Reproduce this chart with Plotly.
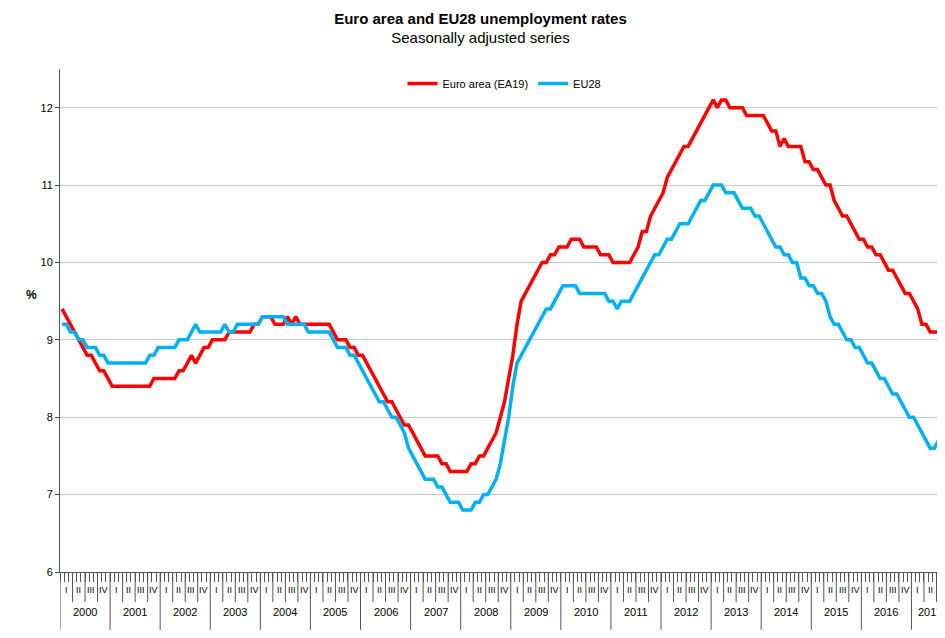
import plotly.graph_objects as go

#### monthly unemployment rates, Jan 2000 - Aug 2017

years = list(range(2000, 2018))
quarters = ["I", "II", "III", "IV"]

ea19 = [
    9.4, 9.3, 9.2, 9.1, 9.0, 8.9, 8.8, 8.8, 8.7, 8.6, 8.6, 8.5,
    8.4, 8.4, 8.4, 8.4, 8.4, 8.4, 8.4, 8.4, 8.4, 8.4, 8.5, 8.5,
    8.5, 8.5, 8.5, 8.5, 8.6, 8.6, 8.7, 8.8, 8.7, 8.8, 8.9, 8.9,
    9.0, 9.0, 9.0, 9.0, 9.1, 9.1, 9.1, 9.1, 9.1, 9.1, 9.2, 9.2,
    9.3, 9.3, 9.3, 9.2, 9.2, 9.2, 9.3, 9.2, 9.3, 9.2, 9.2, 9.2,
    9.2, 9.2, 9.2, 9.2, 9.2, 9.1, 9.0, 9.0, 9.0, 8.9, 8.9, 8.8,
    8.8, 8.7, 8.6, 8.5, 8.4, 8.3, 8.2, 8.2, 8.1, 8.0, 7.9, 7.9,
    7.8, 7.7, 7.6, 7.5, 7.5, 7.5, 7.5, 7.4, 7.4, 7.3, 7.3, 7.3,
    7.3, 7.3, 7.4, 7.4, 7.5, 7.5, 7.6, 7.7, 7.8, 8.0, 8.2, 8.5,
    8.8, 9.2, 9.5, 9.6, 9.7, 9.8, 9.9, 10.0, 10.0, 10.1, 10.1, 10.2,
    10.2, 10.2, 10.3, 10.3, 10.3, 10.2, 10.2, 10.2, 10.2, 10.1, 10.1, 10.1,
    10.0, 10.0, 10.0, 10.0, 10.0, 10.1, 10.2, 10.4, 10.4, 10.6, 10.7, 10.8,
    10.9, 11.1, 11.2, 11.3, 11.4, 11.5, 11.5, 11.6, 11.7, 11.8, 11.9, 12.0,
    12.1, 12.0, 12.1, 12.1, 12.0, 12.0, 12.0, 12.0, 11.9, 11.9, 11.9, 11.9,
    11.9, 11.8, 11.7, 11.7, 11.5, 11.6, 11.5, 11.5, 11.5, 11.5, 11.3, 11.3,
    11.2, 11.2, 11.1, 11.0, 11.0, 10.8, 10.7, 10.6, 10.6, 10.5, 10.4, 10.3,
    10.3, 10.2, 10.2, 10.1, 10.1, 10.0, 9.9, 9.9, 9.8, 9.7, 9.6, 9.6,
    9.5, 9.4, 9.2, 9.2, 9.1, 9.1, 9.1, 9.1,
]

eu28 = [
    9.2, 9.2, 9.1, 9.1, 9.0, 9.0, 8.9, 8.9, 8.9, 8.8, 8.8, 8.7,
    8.7, 8.7, 8.7, 8.7, 8.7, 8.7, 8.7, 8.7, 8.7, 8.8, 8.8, 8.9,
    8.9, 8.9, 8.9, 8.9, 9.0, 9.0, 9.0, 9.1, 9.2, 9.1, 9.1, 9.1,
    9.1, 9.1, 9.1, 9.2, 9.1, 9.1, 9.2, 9.2, 9.2, 9.2, 9.2, 9.2,
    9.3, 9.3, 9.3, 9.3, 9.3, 9.3, 9.2, 9.2, 9.2, 9.2, 9.2, 9.1,
    9.1, 9.1, 9.1, 9.1, 9.1, 9.0, 8.9, 8.9, 8.9, 8.8, 8.8, 8.7,
    8.6, 8.5, 8.4, 8.3, 8.2, 8.2, 8.1, 8.0, 8.0, 7.9, 7.8, 7.6,
    7.5, 7.4, 7.3, 7.2, 7.2, 7.2, 7.1, 7.1, 7.0, 6.9, 6.9, 6.9,
    6.8, 6.8, 6.8, 6.9, 6.9, 7.0, 7.0, 7.1, 7.2, 7.4, 7.7, 8.0,
    8.4, 8.7, 8.8, 8.9, 9.0, 9.1, 9.2, 9.3, 9.4, 9.4, 9.5, 9.6,
    9.7, 9.7, 9.7, 9.7, 9.6, 9.6, 9.6, 9.6, 9.6, 9.6, 9.6, 9.5,
    9.5, 9.4, 9.5, 9.5, 9.5, 9.6, 9.7, 9.8, 9.9, 10.0, 10.1, 10.1,
    10.2, 10.3, 10.3, 10.4, 10.5, 10.5, 10.5, 10.6, 10.7, 10.8, 10.8, 10.9,
    11.0, 11.0, 11.0, 10.9, 10.9, 10.9, 10.8, 10.7, 10.7, 10.7, 10.6, 10.6,
    10.5, 10.4, 10.3, 10.2, 10.2, 10.1, 10.1, 10.0, 10.0, 9.8, 9.8, 9.7,
    9.7, 9.6, 9.6, 9.5, 9.3, 9.2, 9.2, 9.1, 9.0, 9.0, 8.9, 8.9,
    8.8, 8.7, 8.7, 8.6, 8.5, 8.5, 8.4, 8.3, 8.3, 8.2, 8.1, 8.0,
    8.0, 7.9, 7.8, 7.7, 7.6, 7.6, 7.7, 7.6,
]

months = list(range(len(ea19)))
x_end = len(ea19) + 0.5

fig = go.Figure()
fig.add_trace(go.Scatter(x=months, y=ea19, mode="lines", name="Euro area (EA19)",
                         line=dict(color="#ff0000", width=3.5)))
fig.add_trace(go.Scatter(x=months, y=eu28, mode="lines", name="EU28",
                         line=dict(color="#00b0f0", width=3.5)))

#### month / quarter / year axis below the plot
shapes = []
annotations = []
for i, yr in enumerate(years):
    start = i * 12 - 0.5
    if start < x_end:
        shapes.append(dict(type="line", xref="x", yref="paper", x0=start, x1=start,
                           y0=0, y1=-0.115, line=dict(color="#555", width=1)))
        yr_end = min(start + 12, x_end)
        annotations.append(dict(x=(start + yr_end) / 2, y=-0.095, xref="x", yref="paper",
                                text=str(yr), showarrow=False, font=dict(size=11)))
    for q, ql in enumerate(quarters):
        qs = start + q * 3
        if qs >= x_end - 1:
            continue
        if q > 0:
            shapes.append(dict(type="line", xref="x", yref="paper", x0=qs, x1=qs,
                               y0=0, y1=-0.06, line=dict(color="#555", width=1)))
        annotations.append(dict(x=qs + 1.5, y=-0.05, xref="x", yref="paper",
                                text=ql, showarrow=False, font=dict(size=9, color="black")))
shapes.append(dict(type="line", xref="x", yref="paper", x0=x_end, x1=x_end,
                   y0=0, y1=-0.115, line=dict(color="#555", width=1)))

annotations.append(dict(x=-0.04, y=0.55, xref="paper", yref="paper", text="<b>%</b>",
                        showarrow=False, font=dict(size=12)))

fig.update_layout(
    width=945, height=638,
    margin=dict(l=52, r=4, t=61, b=74),
    plot_bgcolor="white", paper_bgcolor="white",
    font=dict(family="Liberation Sans, Arial", size=12, color="black"),
    title=dict(text="<b>Euro area and EU28 unemployment rates</b><br><span style='font-size:15px'>Seasonally adjusted series</span>",
               x=0.5, xanchor="center", y=0.975, yanchor="top", font=dict(size=15)),
    legend=dict(orientation="h", x=0.5, xanchor="center", y=1.0, yanchor="top",
                font=dict(size=11), bgcolor="rgba(0,0,0,0)"),
    xaxis=dict(range=[-0.5, x_end], tickvals=[m - 0.5 for m in range(len(ea19) + 1)],
               showticklabels=False, ticks="outside", ticklen=9, tickcolor="#555",
               showgrid=False, showline=True, linecolor="#555", zeroline=False),
    yaxis=dict(range=[6, 12.5], dtick=1, tick0=6, showgrid=True, gridcolor="#c8c8c8",
               showline=True, linecolor="#555", ticks="outside", ticklen=4,
               zeroline=False, tickfont=dict(size=11)),
    shapes=shapes,
    annotations=annotations,
)

fig.write_html("out.html")
